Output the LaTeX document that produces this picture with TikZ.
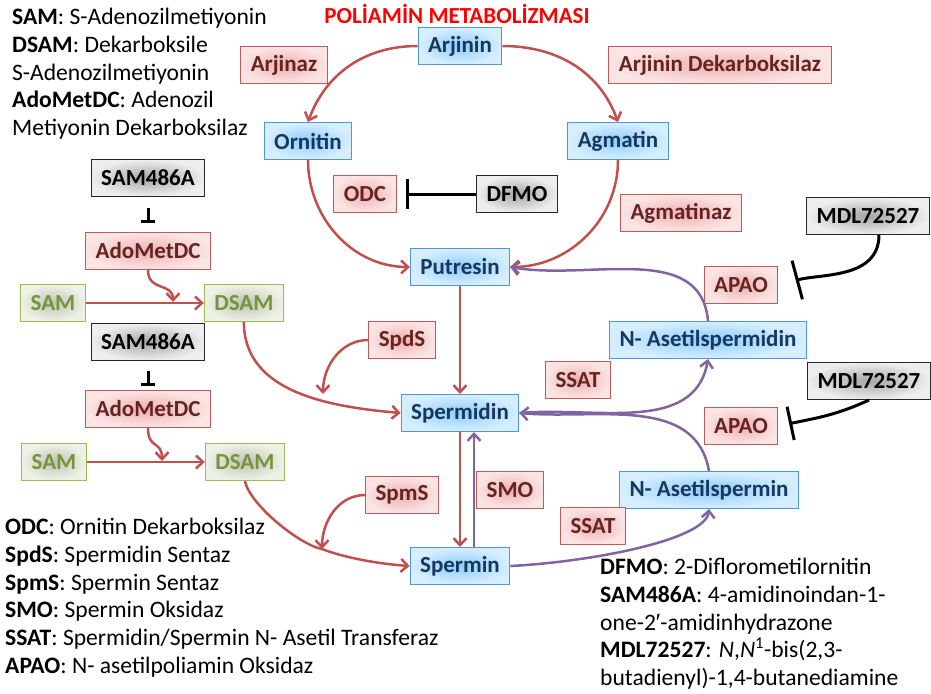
\documentclass[tikz,border=0pt]{standalone}
\usepackage{fontspec}
\setmainfont{Carlito}
\newfontfamily\primefont{Liberation Sans}
\usetikzlibrary{positioning, arrows.meta}

\definecolor{metabline}{RGB}{79,150,220}
\definecolor{metabin}{RGB}{140,205,250}
\definecolor{metabout}{RGB}{215,238,255}
\definecolor{metabtext}{RGB}{23,55,94}
\definecolor{enzline}{RGB}{190,90,90}
\definecolor{enzin}{RGB}{240,175,175}
\definecolor{enzout}{RGB}{250,228,228}
\definecolor{enztext}{RGB}{99,37,35}
\definecolor{drugline}{RGB}{40,40,40}
\definecolor{drugin}{RGB}{165,165,165}
\definecolor{drugout}{RGB}{238,238,238}
\definecolor{substrline}{RGB}{155,187,89}
\definecolor{substrin}{RGB}{190,195,180}
\definecolor{substrout}{RGB}{238,242,230}
\definecolor{substrtext}{RGB}{119,147,60}
\definecolor{rxnred}{RGB}{192,80,77}
\definecolor{acetpurple}{RGB}{128,100,162}
\definecolor{titlered}{RGB}{255,0,0}

\tikzset{
	box/.style={draw, shade, line width=1pt, inner xsep=10pt, inner ysep=0pt, minimum height=37pt, font=\fontsize{23}{27.7}\selectfont\bfseries},
	metab/.style={box, draw=metabline, inner color=metabin, outer color=metabout, text=metabtext},
	enzyme/.style={box, draw=enzline, inner color=enzin, outer color=enzout, text=enztext},
	drug/.style={box, draw=drugline, inner color=drugin, outer color=drugout, text=black},
	substr/.style={box, draw=substrline, inner color=substrin, outer color=substrout, text=substrtext},
	rxn/.style={draw=rxnred, line width=2.5pt, -{Straight Barb[length=7pt,width=13pt]}},
	acet/.style={rxn, draw=acetpurple},
	inhib/.style={draw=black, line width=3pt, -{Bar[width=#1]}},
	inhib/.default=30pt,
	legend/.style={anchor=north west, align=left, inner sep=0pt, font=\fontsize{23.6}{27.8}\selectfont}
}

\begin{document}
\begin{tikzpicture}[x=1pt,y=1pt]
	\useasboundingbox (0,0) rectangle (931,-693);
	\node (title)[font=\fontsize{23}{27.7}\selectfont\bfseries, text=titlered] at (457,-14) {POLİAMİN METABOLİZMASI};

	% polyamines
	\node (arjinin)[metab] at (460,-46) {Arjinin};
	\node (ornitin)[metab] at (308,-141) {Ornitin};
	\node (agmatin)[metab] at (618,-141) {Agmatin};
	\node (putresin)[metab] at (460,-267) {Putresin};
	\node (spermidin)[metab] at (460,-413) {Spermidin};
	\node (spermin)[metab] at (460,-566) {Spermin};
	\node (nacspd)[metab] at (708,-340) {N- Asetilspermidin};
	\node (nacspm)[metab] at (709,-490) {N- Asetilspermin};

	% enzymes
	\node (arjinaz)[enzyme] at (284,-65) {Arjinaz};
	\node (adc)[enzyme] at (720,-65) {Arjinin Dekarboksilaz};
	\node (odc)[enzyme] at (365,-194) {ODC};
	\node (agmatinaz)[enzyme] at (681,-213) {Agmatinaz};
	\node (apaoA)[enzyme] at (741,-285) {APAO};
	\node (apaoB)[enzyme] at (741,-426) {APAO};
	\node (spds)[enzyme] at (402,-340) {SpdS};
	\node (spms)[enzyme] at (402,-495) {SpmS};
	\node (smo)[enzyme] at (510,-490) {SMO};
	\node (ssatA)[enzyme] at (578,-380) {SSAT};
	\node (ssatB)[enzyme] at (593,-526) {SSAT};

	% inhibitors
	\node (dfmo)[drug] at (517,-194) {DFMO};
	\node (mdlA)[drug] at (868,-216) {MDL72527};
	\node (mdlB)[drug] at (869,-381) {MDL72527};

	% SAM side
	\node (samhA)[drug] at (148,-178) {SAM486A};
	\node (adoA)[enzyme, below=35pt of samhA] {AdoMetDC};
	\node (samA)[substr] at (53,-303) {SAM};
	\node (dsamA)[substr, right=118pt of samA] {DSAM};
	\node (samhB)[drug] at (148,-342) {SAM486A};
	\node (adoB)[enzyme, below=29pt of samhB] {AdoMetDC};
	\node (samB)[substr] at (54,-462) {SAM};
	\node (dsamB)[substr, right=118pt of samB] {DSAM};
	\coordinate (joinA) at (173,-302);
	\coordinate (joinB) at (162,-461);
	\coordinate (joinC) at (323,-394);
	\coordinate (joinD) at (322,-549);

	% legends
	\node (legtop)[legend] at (12,-8) {\textbf{SAM}: S-Adenozilmetiyonin\\\textbf{DSAM}: Dekarboksile\\S-Adenozilmetiyonin\\\textbf{AdoMetDC}: Adenozil\\Metiyonin Dekarboksilaz};
	\node (legleft)[legend] at (5,-518) {\textbf{ODC}: Ornitin Dekarboksilaz\\\textbf{SpdS}: Spermidin Sentaz\\\textbf{SpmS}: Spermin Sentaz\\\textbf{SMO}: Spermin Oksidaz\\\textbf{SSAT}: Spermidin/Spermin N- Asetil Transferaz\\\textbf{APAO}: N- asetilpoliamin Oksidaz};
	\node (legright)[legend] at (600,-558) {\textbf{DFMO}: 2-Diflorometilornitin\\\textbf{SAM486A}: 4-amidinoindan-1-\\one-2{\primefont ′}-amidinhydrazone\\\textbf{MDL72527}: \textit{N},\textit{N}\textsuperscript{1}-bis(2,3-\\butadienyl)-1,4-butanediamine};

	% reactions
	\draw[rxn] (arjinin.west) to[out=180,in=70] (ornitin.north);
	\draw[rxn] (arjinin.east) to[out=0,in=110] (agmatin.north);
	\draw[rxn] (ornitin.south) to[out=-90,in=180] (putresin.west);
	\draw[rxn] (agmatin.south) to[out=-90,in=0] (putresin.east);
	\draw[rxn] (putresin) -- (spermidin);
	\draw[rxn] (spermidin) -- (spermin);
	\draw[acet] ([xshift=14pt]spermin.north) -- ([xshift=14pt]spermidin.south);
	\draw[rxn] (samA) -- (dsamA);
	\draw[rxn] (samB) -- (dsamB);
	\draw[rxn] (dsamA.south) to[out=-90,in=175] (spermidin.west);
	\draw[rxn] (dsamB.south) .. controls (250,-505) and (300,-545) .. (joinD) .. controls (345,-558) and (380,-564) .. (spermin.west);
	\draw[rxn] (adoA.south) .. controls (148,-292) and (173,-282) .. (joinA);
	\draw[rxn] (adoB.south) .. controls (148,-450) and (162,-440) .. (joinB);
	\draw[rxn] (spds.west) to[out=180,in=90] (joinC);
	\draw[rxn] (spms.west) to[out=180,in=90] (joinD);

	% acetylation and back-conversion
	\draw[acet] (nacspd.north) to[out=95,in=-10] (putresin.east);
	\draw[acet] (spermidin.east) to[out=5,in=-100] (nacspd.south);
	\draw[acet] (nacspm.north) to[out=100,in=-5] (spermidin.east);
	\draw[acet] (spermin.east) .. controls (590,-562) and (706,-540) .. (nacspm.south);

	% inhibition
	\draw[inhib, shorten >=9pt] (dfmo) -- (odc);
	\draw[inhib=14pt, shorten <=11pt, shorten >=9pt] (samhA) -- (adoA);
	\draw[inhib=14pt, shorten <=10pt, shorten >=4pt] (samhB) -- (adoB);
	\draw[inhib=40pt, shorten >=18pt] (mdlA.300) to[out=-90,in=15] (apaoA.east);
	\draw[inhib=34pt, shorten >=11pt] (mdlB.south) to[out=-155,in=12] (apaoB.east);
\end{tikzpicture}
\end{document}
